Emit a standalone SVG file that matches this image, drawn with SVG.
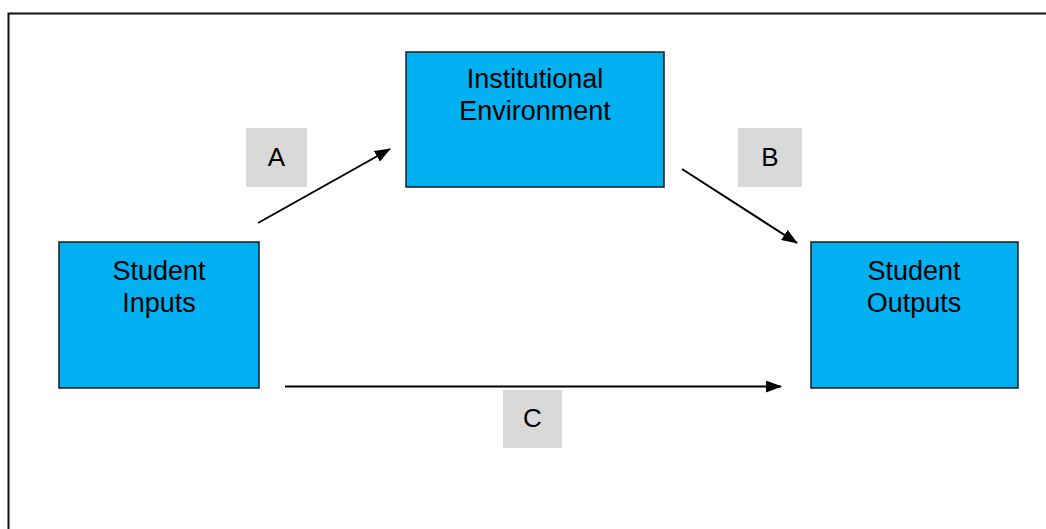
<svg xmlns="http://www.w3.org/2000/svg" width="1046" height="529" viewBox="0 0 1046 529">
<style>
.node{fill:#00B0F0;stroke:#1a1a1a;stroke-width:1.5}
.lbl{fill:#D9D9D9}
.t{font-family:"Liberation Sans",Arial,sans-serif;font-size:27px;fill:#000;text-anchor:middle}
.tl{font-family:"Liberation Sans",Arial,sans-serif;font-size:26px;fill:#000;text-anchor:middle}
.conn{stroke:#000;stroke-width:2;fill:none;marker-end:url(#ah)}
</style>
<defs>
<marker id="ah" viewBox="0 0 16 12" refX="15" refY="6" markerWidth="16" markerHeight="12" markerUnits="userSpaceOnUse" orient="auto">
<path d="M0,0 L16,6 L0,12 z" fill="#000"/>
</marker>
</defs>
<rect x="0" y="0" width="1046" height="529" fill="#fff"/>
<path d="M8.5,540 L8.5,13.5 L1060,13.5" fill="none" stroke="#111" stroke-width="2"/>
<g id="label-A"><rect class="lbl" x="246" y="128" width="61" height="59"/><text class="tl" x="276.5" y="166">A</text></g>
<g id="label-B"><rect class="lbl" x="738" y="128" width="64" height="59"/><text class="tl" x="770" y="166">B</text></g>
<g id="label-C"><rect class="lbl" x="503" y="390" width="59" height="58"/><text class="tl" x="532.5" y="427">C</text></g>
<g id="connectors">
<line class="conn" x1="258" y1="223" x2="390" y2="149"/>
<line class="conn" x1="682" y1="169" x2="797" y2="243"/>
<line class="conn" x1="285" y1="386.5" x2="781" y2="386.5"/>
</g>
<g id="institutional-environment"><rect class="node" x="406" y="52" width="258" height="135"/><text class="t" x="535" y="88">Institutional</text><text class="t" x="535" y="120">Environment</text></g>
<g id="student-inputs"><rect class="node" x="59" y="242" width="200" height="146"/><text class="t" x="159" y="280">Student</text><text class="t" x="159" y="312">Inputs</text></g>
<g id="student-outputs"><rect class="node" x="811" y="242" width="207" height="146"/><text class="t" x="914" y="280">Student</text><text class="t" x="914" y="312">Outputs</text></g>
</svg>
